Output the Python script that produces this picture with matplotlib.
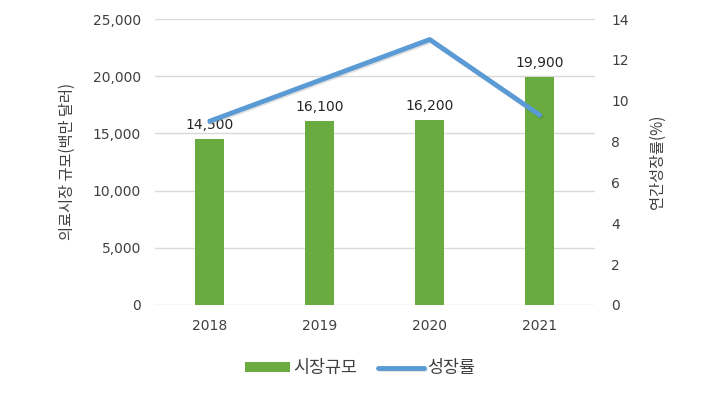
import numpy as np
from matplotlib import pyplot as plt
from matplotlib import patheffects as pe

plt.rcParams['font.family'] = ['Noto Sans CJK KR', 'DejaVu Sans']

years = ['2018', '2019', '2020', '2021']
market_size = [14500, 16100, 16200, 19900]
growth_rate = [9.0, 11.0, 13.0, 9.3]

fig = plt.figure(figsize=(7.2, 3.98), dpi=100)
ax = fig.add_axes([0.215, 0.234, 0.611, 0.718])
ax2 = ax.twinx()

x = np.arange(len(years))
ax.bar(x, market_size, width=0.26, color='#6aab3f', zorder=2, label='시장규모')
for xi, v in zip(x, market_size):
    ax.annotate(format(v, ','), (xi, v), xytext=(0, 5), textcoords='offset points',
                ha='center', va='bottom', fontsize=10, color='#262626',
                family='DejaVu Sans')

ax2.plot(x, growth_rate, color='#5b9bd5', lw=3.5, solid_capstyle='round', label='성장률',
         path_effects=[pe.SimpleLineShadow(offset=(1, -1), alpha=0.12), pe.Normal()])

ax.set_xlim(-0.5, 3.5)
ax.set_ylim(0, 25000)
ax2.set_ylim(0, 14)
ax.set_yticks(range(0, 25001, 5000))
ax.set_yticklabels([format(t, ',') for t in range(0, 25001, 5000)], family='DejaVu Sans')
ax2.set_yticks(range(0, 15, 2))
ax2.set_yticklabels([str(t) for t in range(0, 15, 2)], family='DejaVu Sans')
ax.set_xticks(x)
ax.set_xticklabels(years, family='DejaVu Sans')
ax.grid(axis='y', color='#d9d9d9', lw=1, zorder=0)
ax.set_axisbelow(True)

for a in (ax, ax2):
    for s in a.spines.values():
        s.set_visible(False)
    a.tick_params(length=0, labelsize=10, colors='#404040')
ax.tick_params(axis='y', pad=10)
ax.tick_params(axis='x', pad=10)
ax2.tick_params(axis='y', pad=12)

ax.set_ylabel('의료시장 규모(백만 달러)', fontsize=11, color='#404040', labelpad=12)
ax2.set_ylabel('연간성장률(%)', fontsize=11, color='#404040', rotation=90, labelpad=14)

h1, l1 = ax.get_legend_handles_labels()
h2, l2 = ax2.get_legend_handles_labels()
fig.legend(h1 + h2, l1 + l2, loc='center', bbox_to_anchor=(0.5, 0.075), ncol=2,
           frameon=False, fontsize=12.5, handlelength=2.6, handleheight=0.5,
           columnspacing=1.2, handletextpad=0.2, labelcolor='#404040')

plt.savefig('out.png', dpi=100)
